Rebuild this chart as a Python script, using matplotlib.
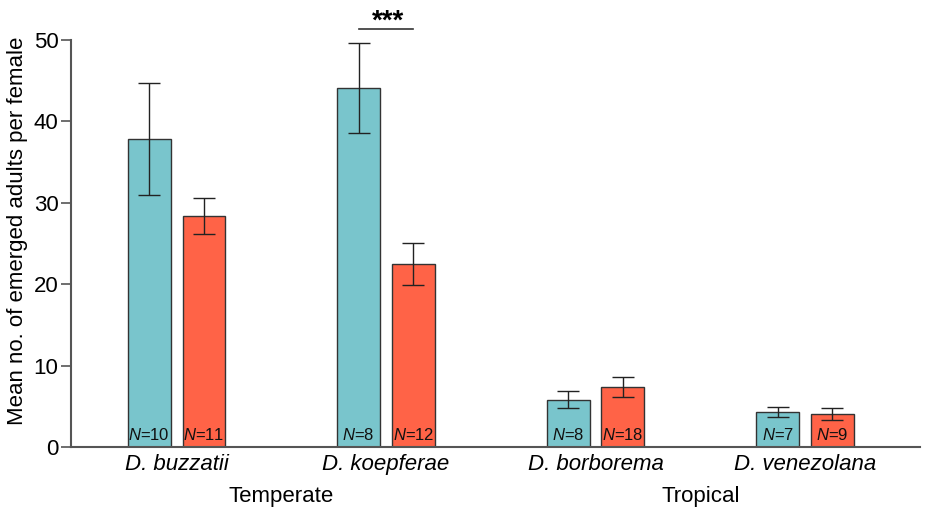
import matplotlib
matplotlib.use("Agg")
import matplotlib.pyplot as plt
import numpy as np

plt.rcParams['font.family'] = ['Liberation Sans', 'DejaVu Sans']
plt.rcParams['mathtext.fontset'] = 'custom'
plt.rcParams['mathtext.it'] = 'Liberation Sans:italic'
plt.rcParams['mathtext.rm'] = 'Liberation Sans'

species = ["D. buzzatii", "D. koepferae", "D. borborema", "D. venezolana"]
groups = ["Temperate", "Tropical"]
teal_mean = [37.8, 44.1, 5.8, 4.3]
teal_err = [6.9, 5.5, 1.05, 0.6]
red_mean = [28.4, 22.5, 7.4, 4.05]
red_err = [2.2, 2.6, 1.2, 0.7]
teal_n = [10, 8, 8, 7]
red_n = [11, 12, 18, 9]
yticks = [0, 10, 20, 30, 40, 50]

teal_c = "#79c5cc"
red_c = "#ff6347"

fig = plt.figure(figsize=(9.27, 5.08), dpi=100)
ax = fig.add_axes([71/927, 61/508, (920-71)/927, (447-40)/508])

x = np.arange(len(species))
off = 0.131
w = 0.205
ax.bar(x - off, teal_mean, w, color=teal_c, edgecolor="#333333", linewidth=1.0, zorder=2)
ax.bar(x + off, red_mean, w, color=red_c, edgecolor="#333333", linewidth=1.0, zorder=2)
ax.errorbar(x - off, teal_mean, yerr=teal_err, fmt="none", ecolor="#222222", elinewidth=1.0, capsize=8, capthick=1.0, zorder=3)
ax.errorbar(x + off, red_mean, yerr=red_err, fmt="none", ecolor="#222222", elinewidth=1.0, capsize=8, capthick=1.0, zorder=3)

for xi, n in zip(x - off, teal_n):
    ax.text(xi, 0.5, f"$\\it{{N}}$={n}", ha="center", va="bottom", fontsize=12, color="#111111", zorder=4)
for xi, n in zip(x + off, red_n):
    ax.text(xi, 0.5, f"$\\it{{N}}$={n}", ha="center", va="bottom", fontsize=12, color="#111111", zorder=4)

# significance
ax.plot([1 - off, 1 + off], [51.3, 51.3], color="#333333", lw=1.2, clip_on=False)
ax.text(1.0 + 0.01, 50.6, "***", ha="center", va="bottom", fontsize=20, fontweight="bold", clip_on=False)

ax.set_xlim(-0.504, 3.549)
ax.set_ylim(0, 50)
ax.set_yticks(yticks)
ax.set_yticklabels([str(t) for t in yticks], fontsize=16)
ax.set_xticks(x)
ax.set_xticklabels(species, fontsize=16, style="italic")
ax.tick_params(axis="x", length=0, pad=5)
ax.tick_params(axis="y", length=7, width=1.2, color="#555555", pad=2)
for s in ["top", "right"]:
    ax.spines[s].set_visible(False)
for s in ["left", "bottom"]:
    ax.spines[s].set_color("#555555")
    ax.spines[s].set_linewidth(1.5)

ax.set_ylabel("Mean no. of emerged adults per female", fontsize=16)
ax.yaxis.set_label_coords(-0.051, 0.53)

ax.text(0.5, -0.095, groups[0], transform=ax.get_xaxis_transform(), ha="center", va="top", fontsize=16)
ax.text(2.5, -0.095, groups[1], transform=ax.get_xaxis_transform(), ha="center", va="top", fontsize=16)

fig.savefig("out.png", dpi=100)
